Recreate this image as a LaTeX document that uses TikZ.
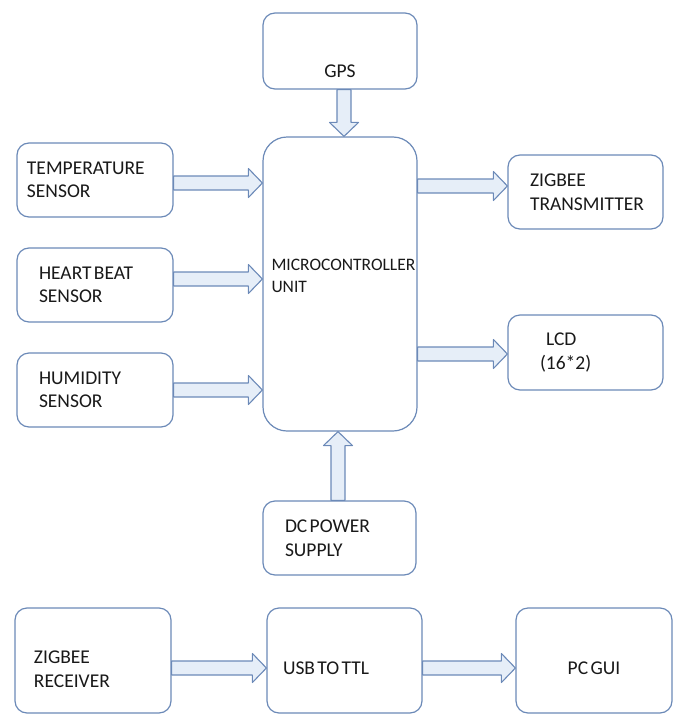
\documentclass[tikz,border=0pt]{standalone}
\usepackage{fontspec}
\setmainfont{Carlito}
\usetikzlibrary{calc}
\definecolor{boxline}{RGB}{108,138,184}
\definecolor{arrowfill}{RGB}{230,238,248}
\definecolor{labeltext}{RGB}{25,25,25}
\newcommand{\boxfont}{\fontsize{19.5}{23.5}\selectfont}
\newcommand{\mcufont}{\fontsize{17.5}{22}\selectfont}
% hollow block arrow from #1 to the tip #2
\newcommand{\hollowarrow}[2]{%
  \coordinate (ha) at (#1);
  \coordinate (hb) at (#2);
  \coordinate (hc) at ($(hb)!14pt!(ha)$);
  \draw[arrowbody] ($(ha)!7pt!90:(hb)$) -- ($(hc)!7pt!90:(hb)$) -- ($(hc)!14.5pt!90:(hb)$) -- (hb)
    -- ($(hc)!14.5pt!-90:(hb)$) -- ($(hc)!7pt!-90:(hb)$) -- ($(ha)!7pt!-90:(hb)$) -- cycle;
}
\begin{document}
\begin{tikzpicture}[x=1pt,y=-1pt,
  box/.style={draw=boxline,line width=1.2pt,fill=white,rounded corners=12pt,
    minimum height=74pt,inner ysep=0pt,text=labeltext,align=left,font=\boxfont,
    execute at begin node={\setlength{\spaceskip}{0.12em}}},
  arrowbody/.style={draw=boxline,fill=arrowfill,line width=1.1pt,line join=round}]
\useasboundingbox (0,0) rectangle (673,715);
\node[box,minimum width=154pt,minimum height=76pt,align=center,text height=52pt,text depth=0pt] (gps) at (340,51) {GPS};
\node[box,minimum height=294pt,rounded corners=24pt,inner xsep=8.5pt,text width=137pt,
  font=\mcufont,text height=10pt,text depth=38pt] (mcu) at (340,284) {MICROCONTROLLER\\UNIT};
\node[box,inner xsep=10pt,text width=136pt] (temp) at (95,180) {TEMPERATURE\\SENSOR};
\node[box,inner xsep=22pt,text width=112pt] (heart) at (95,285) {HEART BEAT\\SENSOR};
\node[box,inner xsep=22pt,text width=112pt] (humid) at (95,390) {HUMIDITY\\SENSOR};
\node[box,inner xsep=22pt,text width=111pt] (zigtx) at (585.5,192) {ZIGBEE\\TRANSMITTER};
\node[box,minimum height=75pt,inner xsep=32pt,text width=91pt] (lcd) at (585.5,352.5) {\hspace*{6pt}LCD\\(16*2)};
\node[box,inner xsep=22pt,text width=109pt] (dc) at (339.5,538) {DC POWER\\SUPPLY};
\node[box,minimum height=105pt,inner xsep=19pt,text width=118pt,text height=30pt,text depth=24pt] (zigrx) at (93,660.5) {ZIGBEE\\RECEIVER};
\node[box,minimum height=105pt,inner xsep=16pt,text width=123pt,text height=27pt,text depth=0pt] (usb) at (344.5,660.5) {USB TO TTL};
\node[box,minimum height=105pt,inner xsep=19pt,text width=118pt,align=center,text height=27pt,text depth=0pt] (pcgui) at (594,660.5) {PC GUI};
\hollowarrow{gps.south -| 344,0}{mcu.north -| 344,0}
\hollowarrow{temp.east |- 0,183}{mcu.west |- 0,183}
\hollowarrow{heart.east |- 0,279}{mcu.west |- 0,279}
\hollowarrow{humid.east |- 0,390}{mcu.west |- 0,390}
\hollowarrow{mcu.east |- 0,186}{zigtx.west |- 0,186}
\hollowarrow{mcu.east |- 0,354}{lcd.west |- 0,354}
\hollowarrow{dc.north -| 338,0}{mcu.south -| 338,0}
\hollowarrow{zigrx.east |- 0,668}{usb.west |- 0,668}
\hollowarrow{usb.east |- 0,668}{pcgui.west |- 0,668}
\end{tikzpicture}
\end{document}
